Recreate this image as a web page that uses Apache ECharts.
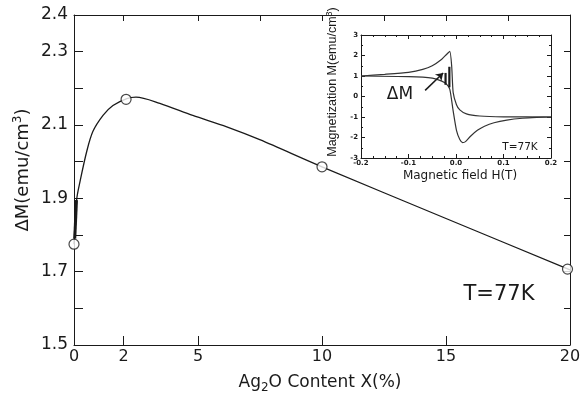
<!DOCTYPE html>
<html>
<head>
<meta charset="utf-8">
<script src="https://cdn.jsdelivr.net/npm/echarts@6/dist/echarts.min.js"></script>
<style>
  html, body { margin: 0; padding: 0; background: #fff; }
  #chart { width: 580px; height: 398px; }
</style>
</head>
<body>
<div id="chart"></div>
<script>
// main plot: dM vs Ag2O content
const pointX = [0, 2.1, 10, 19.9];
const pointY = [1.775, 2.17, 1.986, 1.707];
// fitted curve
const curveX = [0, 0.11, 0.24, 0.51, 0.76, 1.17, 1.57, 2.13, 2.5, 3.46, 4.79, 6.16, 7.49, 10, 15, 20];
const curveY = [1.775, 1.898, 1.945, 2.027, 2.082, 2.126, 2.153, 2.172, 2.176, 2.159, 2.126, 2.095, 2.06, 1.986, 1.845, 1.705];
const thickX = [0.03, 0.1];
const thickY = [1.79, 1.895];
const xTickMajor = [0, 2, 5, 10, 15, 20];
const xTickMinor = [7.5, 12.5, 17.5];
const yTickLabels = [1.5, 1.7, 1.9, 2.1, 2.3, 2.4];

// inset: hysteresis loop
const loopAX = [-0.2, -0.15, -0.1, -0.07, -0.05, -0.03, -0.02, -0.013, -0.009, -0.006, 0.001, 0.008, 0.022, 0.05, 0.1, 0.2];
const loopAY = [1.0, 1.08, 1.18, 1.32, 1.5, 1.82, 2.05, 2.2, 1.45, 0.2, -0.4, -0.65, -0.85, -0.95, -0.99, -1.0];
const loopBX = [-0.2, -0.1, -0.05, -0.03, -0.02, -0.013, -0.006, 0.001, 0.008, 0.014, 0.02, 0.03, 0.045, 0.06, 0.08, 0.107, 0.14, 0.17, 0.2];
const loopBY = [1.0, 0.97, 0.9, 0.75, 0.6, 0.35, -0.7, -1.65, -2.1, -2.25, -2.2, -1.95, -1.65, -1.45, -1.28, -1.15, -1.06, -1.02, -1.0];
const dmBarX = [-0.022, -0.014];
const dmBarLo = [0.57, 0.45];
const dmBarHi = [1.15, 1.45];
const arrowX = [-0.065, -0.027];
const arrowY = [0.3, 1.15];

const zip = (a, b) => a.map((v, i) => [v, b[i]]);
const font = 'DejaVu Sans';
const ink = '#1a1a1a';

const chart = echarts.init(document.getElementById('chart'));

const frameAxis = {
  axisLine: { show: true, onZero: false, lineStyle: { color: ink, width: 1 } },
  splitLine: { show: false },
};

const option = {
  backgroundColor: '#fff',
  animation: false,
  grid: [
    { left: 74, right: 10, top: 15, bottom: 53, outerBoundsMode: 'none' },
    { left: 361, right: 29, top: 35, bottom: 240, outerBoundsMode: 'none' },
  ],
  xAxis: [
    {
      ...frameAxis, gridIndex: 0, type: 'value', min: 0, max: 20,
      axisTick: { inside: true, length: 9, customValues: xTickMajor, lineStyle: { color: ink } },
      axisLabel: { customValues: xTickMajor, margin: 4, color: ink, fontFamily: font, fontSize: 16 },
    },
    {
      gridIndex: 0, type: 'value', min: 0, max: 20,
      axisLine: { show: false }, splitLine: { show: false }, axisLabel: { show: false },
      axisTick: { inside: true, length: 4, customValues: xTickMinor, lineStyle: { color: ink } },
    },
    {
      ...frameAxis, gridIndex: 0, type: 'value', min: 0, max: 20, position: 'top',
      axisLabel: { show: false },
      axisTick: { inside: true, length: 6, customValues: [2, 5, 7.5, 10, 12.5, 15, 17.5], lineStyle: { color: ink } },
    },
    {
      ...frameAxis, gridIndex: 1, type: 'value', min: -0.2, max: 0.2, interval: 0.1,
      axisTick: { inside: true, length: 4, lineStyle: { color: ink } },
      minorTick: { show: true, splitNumber: 4, length: 2, lineStyle: { color: ink } },
      axisLabel: { margin: 2, color: ink, fontFamily: font, fontSize: 7, fontWeight: 'bold', formatter: (v) => v.toFixed(1) },
    },
    {
      ...frameAxis, gridIndex: 1, type: 'value', min: -0.2, max: 0.2, interval: 0.1, position: 'top',
      axisLabel: { show: false },
      axisTick: { inside: true, length: 4, lineStyle: { color: ink } },
      minorTick: { show: true, splitNumber: 4, length: 2, lineStyle: { color: ink } },
    },
  ],
  yAxis: [
    {
      ...frameAxis, gridIndex: 0, type: 'value', min: 1.5, max: 2.4, interval: 0.1,
      axisTick: { inside: true, length: 9, lineStyle: { color: ink } },
      axisLabel: { customValues: yTickLabels, margin: 6, color: ink, fontFamily: font, fontSize: 17, formatter: (v) => v.toFixed(1) },
    },
    {
      ...frameAxis, gridIndex: 0, type: 'value', min: 1.5, max: 2.4, interval: 0.1, position: 'right',
      axisLabel: { show: false },
      axisTick: { inside: true, length: 6, lineStyle: { color: ink } },
    },
    {
      ...frameAxis, gridIndex: 1, type: 'value', min: -3, max: 3, interval: 1,
      axisTick: { inside: true, length: 4, lineStyle: { color: ink } },
      minorTick: { show: true, splitNumber: 2, length: 2, lineStyle: { color: ink } },
      axisLabel: { margin: 3, color: ink, fontFamily: font, fontSize: 7, fontWeight: 'bold' },
    },
    {
      ...frameAxis, gridIndex: 1, type: 'value', min: -3, max: 3, interval: 1, position: 'right',
      axisLabel: { show: false },
      axisTick: { inside: true, length: 4, lineStyle: { color: ink } },
      minorTick: { show: true, splitNumber: 2, length: 2, lineStyle: { color: ink } },
    },
  ],
  series: [
    {
      type: 'line', xAxisIndex: 0, yAxisIndex: 0, data: zip(curveX, curveY),
      smooth: 0.3, showSymbol: false, lineStyle: { color: ink, width: 1.3 },
    },
    {
      type: 'line', xAxisIndex: 0, yAxisIndex: 0, data: zip(thickX, thickY),
      showSymbol: false, lineStyle: { color: ink, width: 3 },
    },
    {
      type: 'scatter', xAxisIndex: 0, yAxisIndex: 0, data: zip(pointX, pointY), z: 5,
      symbol: 'circle', symbolSize: 10,
      itemStyle: { color: '#fff', borderColor: ink, borderWidth: 1.2 },
    },
    {
      type: 'line', xAxisIndex: 3, yAxisIndex: 2, data: zip(loopAX, loopAY),
      smooth: 0.2, showSymbol: false, lineStyle: { color: '#333', width: 1.2 },
    },
    {
      type: 'line', xAxisIndex: 3, yAxisIndex: 2, data: zip(loopBX, loopBY),
      smooth: 0.2, showSymbol: false, lineStyle: { color: '#333', width: 1.2 },
    },
    ...dmBarX.map((x, i) => ({
      type: 'line', xAxisIndex: 3, yAxisIndex: 2, data: [[x, dmBarLo[i]], [x, dmBarHi[i]]],
      showSymbol: false, lineStyle: { color: ink, width: 2.2 },
    })),
    {
      type: 'line', xAxisIndex: 3, yAxisIndex: 2, data: [],
      markLine: {
        silent: true, symbol: ['none', 'arrow'], symbolSize: 7, label: { show: false },
        lineStyle: { color: ink, width: 1.5, type: 'solid' },
        data: [[{ coord: [arrowX[0], arrowY[0]] }, { coord: [arrowX[1], arrowY[1]] }]],
      },
    },
  ],
  graphic: [
    {
      type: 'text', x: 22, y: 170, rotation: Math.PI / 2,
      style: {
        text: '{b|ΔM(emu/cm}{s|3}{b|)}', align: 'center', verticalAlign: 'middle',
        rich: {
          b: { fontFamily: font, fontSize: 18, fill: ink, verticalAlign: 'bottom' },
          s: { fontFamily: font, fontSize: 12, fill: ink, verticalAlign: 'bottom', padding: [0, 0, 8, 0] },
        },
      },
    },
    {
      type: 'text', x: 320, y: 384,
      style: {
        text: '{b|Ag}{s|2}{b|O Content X(%)}', align: 'center', verticalAlign: 'middle',
        rich: {
          b: { fontFamily: font, fontSize: 17, fill: ink, verticalAlign: 'top' },
          s: { fontFamily: font, fontSize: 12, fill: ink, verticalAlign: 'top', padding: [8, 0, 0, 0] },
        },
      },
    },
    {
      type: 'text', x: 332, y: 82, rotation: Math.PI / 2,
      style: {
        text: '{b|Magnetization M(emu/cm}{s|3}{b|)}', align: 'center', verticalAlign: 'middle',
        rich: {
          b: { fontFamily: 'Liberation Sans', fontSize: 12.5, fill: ink, verticalAlign: 'bottom' },
          s: { fontFamily: 'Liberation Sans', fontSize: 9, fill: ink, verticalAlign: 'bottom', padding: [0, 0, 5, 0] },
        },
      },
    },
    {
      type: 'text', x: 460, y: 176,
      style: { text: 'Magnetic field H(T)', fontFamily: font, fontSize: 12, fill: ink, align: 'center', verticalAlign: 'middle' },
    },
    {
      type: 'text', x: 499, y: 295,
      style: { text: 'T=77K', fontFamily: font, fontSize: 21, fill: ink, align: 'center', verticalAlign: 'middle' },
    },
    {
      type: 'text', x: 400, y: 95,
      style: { text: 'ΔM', fontFamily: font, fontSize: 17, fill: ink, align: 'center', verticalAlign: 'middle' },
    },
    {
      type: 'text', x: 520, y: 147,
      style: { text: 'T=77K', fontFamily: font, fontSize: 10.5, fill: ink, align: 'center', verticalAlign: 'middle' },
    },
  ],
};

chart.setOption(option);
window.addEventListener('resize', () => chart.resize());
</script>
</body>
</html>
